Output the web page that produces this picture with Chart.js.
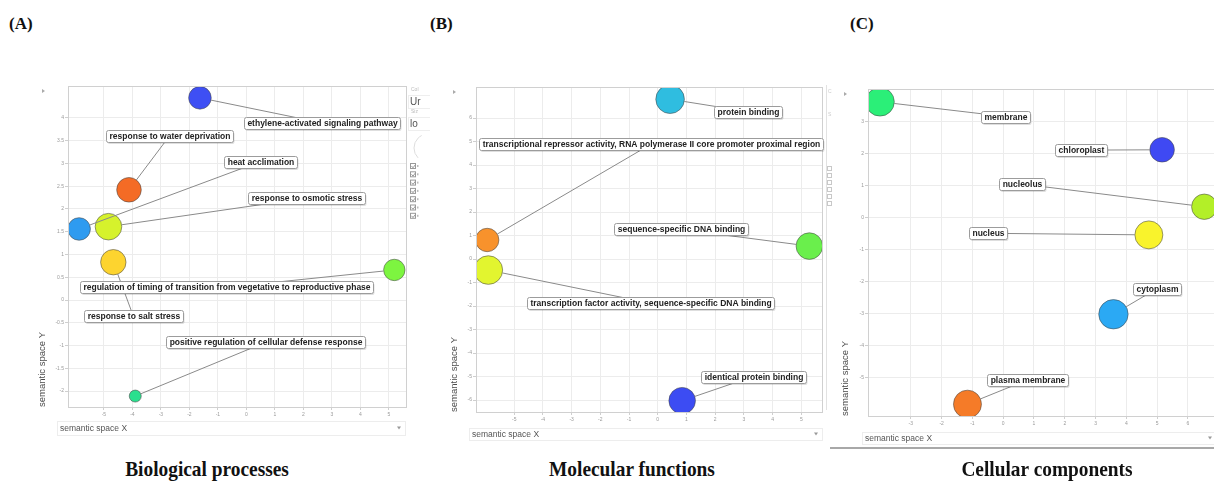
<!DOCTYPE html>
<html>
<head>
<meta charset="utf-8">
<script src="https://cdn.jsdelivr.net/npm/chart.js@4.4.1/dist/chart.umd.min.js"></script>
<style>
html, body { margin: 0; padding: 0; background: #fff; width: 1214px; height: 482px; overflow: hidden; position: relative; }
canvas { position: absolute; }
.tag { position: absolute; font: bold 17px "Liberation Serif", "Times New Roman", serif; color: #111; line-height: 17px; }
.caption { position: absolute; width: 300px; text-align: center; font: bold 22px "Liberation Serif", "Times New Roman", serif; color: #111; line-height: 22px; transform: scaleX(0.88); transform-origin: center; }
.rule { position: absolute; left: 830px; top: 447px; width: 400px; height: 2px; background: #a8a8a8; }
</style>
</head>
<body>
<div class="tag" style="left:9px;top:15px">(A)</div>
<div class="tag" style="left:430px;top:15px">(B)</div>
<div class="tag" style="left:850px;top:15px">(C)</div>

<canvas id="bp" width="400" height="370" style="left:30px;top:80px"></canvas>
<canvas id="mf" width="400" height="372" style="left:440px;top:80px"></canvas>
<canvas id="cc" width="400" height="372" style="left:830px;top:80px"></canvas>
<div class="rule"></div>

<div class="caption" style="left:57px;top:458px">Biological processes</div>
<div class="caption" style="left:482px;top:458px">Molecular functions</div>
<div class="caption" style="left:897px;top:458px">Cellular components</div>

<script>
// (A) Biological processes
const bpTerms = [
  'ethylene-activated signaling pathway',
  'response to water deprivation',
  'heat acclimation',
  'response to osmotic stress',
  'regulation of timing of transition from vegetative to reproductive phase',
  'response to salt stress',
  'positive regulation of cellular defense response'
];
const bpX = [-1.63, -4.12, -5.87, -4.84, 5.19, -4.67, -3.90];
const bpY = [4.44, 2.42, 1.56, 1.61, 0.66, 0.83, -2.11];
const bpSize = [11.3, 12.3, 11.3, 13.3, 10.7, 12.7, 6];
const bpLabelX = [2.65, -2.69, 0.49, 2.12, -0.70, -3.97, 0.67];
const bpLabelY = [3.89, 3.61, 3.04, 2.24, 0.28, -0.35, -0.93];
const bpXTicks = [-5, -4, -3, -2, -1, 0, 1, 2, 3, 4, 5];
const bpYTicks = [-2, -1.5, -1, -0.5, 0, 0.5, 1, 1.5, 2, 2.5, 3, 3.5, 4];

// (B) Molecular functions
const mfTerms = [
  'protein binding',
  'transcriptional repressor activity, RNA polymerase II core promoter proximal region',
  'sequence-specific DNA binding',
  'transcription factor activity, sequence-specific DNA binding',
  'identical protein binding'
];
const mfX = [0.43, -5.94, 5.28, -5.90, 0.85];
const mfY = [6.80, 0.81, 0.55, -0.47, -6.03];
const mfSize = [14.3, 11.7, 13.3, 14.3, 13.3];
const mfLabelX = [3.15, -0.23, 0.81, -0.25, 3.32];
const mfLabelY = [6.27, 4.89, 1.26, -1.88, -5.00];
const mfXTicks = [-5, -4, -3, -2, -1, 0, 1, 2, 3, 4, 5];
const mfYTicks = [-6, -5, -4, -3, -2, -1, 0, 1, 2, 3, 4, 5, 6];

// (C) Cellular components
const ccTerms = ['membrane', 'chloroplast', 'nucleolus', 'nucleus', 'cytoplasm', 'plasma membrane'];
const ccX = [-4.00, 5.16, 6.53, 4.73, 3.58, -1.16];
const ccY = [3.63, 2.13, 0.35, -0.53, -3.01, -5.82];
const ccSize = [14.3, 12.3, 12.7, 14, 14.7, 14];
const ccLabelX = [0.06, 2.53, 0.61, -0.49, 4.99, 0.79];
const ccLabelY = [3.17, 2.12, 1.06, -0.48, -2.21, -5.06];
const ccXTicks = [-3, -2, -1, 0, 1, 2, 3, 4, 5, 6];
const ccYTicks = [-5, -4, -3, -2, -1, 0, 1, 2, 3];

// bubble colours, one per term
const bpColors = ['#3e4ff4', '#f46b25', '#2e9bf0', '#d6f22c', '#7df540', '#fdd42f', '#2bdf8e'];
const mfColors = ['#2fbde0', '#f8922c', '#6aef4c', '#e2f52f', '#3c4cf3'];
const ccColors = ['#2bef78', '#3f49f3', '#b3ef28', '#f9f32c', '#2ba9f4', '#f57b28'];

Chart.defaults.font.family = '"Liberation Sans", Arial, sans-serif';

// labels with connector lines, frame, axis box etc.
function revigoPlugin(p) {
  return {
    id: 'revigo_' + p.id,
    afterDatasetsDraw(chart) {
      const ctx = chart.ctx;
      const area = chart.chartArea;
      const xs = chart.scales.x, ys = chart.scales.y;
      const pts = chart.getDatasetMeta(0).data;
      ctx.save();
      ctx.strokeStyle = '#d0d0d0';
      ctx.lineWidth = 1;
      ctx.strokeRect(Math.round(area.left) + 0.5, Math.round(area.top) + 0.5, Math.round(area.width), Math.round(area.height));

      // connectors: from the bubble edge to the label centre
      ctx.strokeStyle = '#8a8a8a';
      p.terms.forEach((t, i) => {
        const bx = pts[i].x, by = pts[i].y, r = pts[i].options.radius;
        const lx = xs.getPixelForValue(p.labelX[i]), ly = ys.getPixelForValue(p.labelY[i]);
        const d = Math.hypot(lx - bx, ly - by) || 1;
        ctx.beginPath();
        ctx.moveTo(bx + (lx - bx) / d * r, by + (ly - by) / d * r);
        ctx.lineTo(lx, ly);
        ctx.stroke();
      });

      // label boxes
      ctx.font = 'bold 8.5px "Liberation Sans", Arial, sans-serif';
      ctx.textAlign = 'center';
      ctx.textBaseline = 'middle';
      p.terms.forEach((t, i) => {
        const lx = xs.getPixelForValue(p.labelX[i]), ly = ys.getPixelForValue(p.labelY[i]);
        const w = Math.round(ctx.measureText(t).width + 6), h = 12;
        const l = Math.round(lx - w / 2) + 0.5, tp = Math.round(ly - h / 2) + 0.5;
        ctx.fillStyle = 'rgba(0,0,0,0.13)';
        ctx.beginPath(); ctx.roundRect(l + 1, tp + 1.5, w, h, 2); ctx.fill();
        ctx.fillStyle = '#fff';
        ctx.strokeStyle = '#9c9c9c';
        ctx.beginPath(); ctx.roundRect(l, tp, w, h, 2); ctx.fill(); ctx.stroke();
        ctx.fillStyle = '#222';
        ctx.fillText(t, l + w / 2, tp + h / 2 + 0.5);
      });
      ctx.restore();
    },
    afterDraw(chart) {
      const ctx = chart.ctx;
      const b = p.xbox;
      ctx.save();
      // "semantic space X" selector box
      ctx.fillStyle = '#fff';
      ctx.strokeStyle = '#ededed';
      ctx.fillRect(b.l, b.t, b.r - b.l, b.h);
      ctx.strokeRect(b.l + 0.5, b.t + 0.5, b.r - b.l, b.h);
      ctx.fillStyle = '#555';
      ctx.font = '8.5px "Liberation Sans", Arial, sans-serif';
      ctx.textBaseline = 'middle';
      ctx.fillText('semantic space X', b.l + 3, b.t + b.h / 2 + 0.5);
      ctx.fillStyle = '#999';
      ctx.beginPath();
      ctx.moveTo(b.r - 8, b.t + b.h / 2 - 1.5);
      ctx.lineTo(b.r - 4, b.t + b.h / 2 - 1.5);
      ctx.lineTo(b.r - 6, b.t + b.h / 2 + 1.5);
      ctx.fill();
      // small collapse arrow at top left
      const a = p.arrow;
      ctx.fillStyle = '#aaa';
      ctx.beginPath();
      ctx.moveTo(a[0], a[1] - 2);
      ctx.lineTo(a[0] + 3, a[1]);
      ctx.lineTo(a[0], a[1] + 2);
      ctx.fill();
      if (p.side) p.side(ctx);
      ctx.restore();
    }
  };
}

// cut-off settings panel at the right of (A)
function sideA(ctx) {
  ctx.textBaseline = 'alphabetic';
  ctx.fillStyle = '#bbb';
  ctx.font = '5px "Liberation Sans", Arial, sans-serif';
  ctx.fillText('Col', 381, 11);
  ctx.fillText('Siz', 381, 33);
  ctx.fillStyle = '#555';
  ctx.font = '10px "Liberation Sans", Arial, sans-serif';
  ctx.fillText('Ur', 380, 25);
  ctx.fillText('lo', 380, 47);
  ctx.strokeStyle = '#eeeeee';
  ctx.strokeRect(378.5, 15.5, 30, 13);
  ctx.strokeRect(378.5, 37.5, 30, 13);
  ctx.strokeStyle = '#ddd';
  ctx.beginPath(); ctx.arc(398, 68, 14, Math.PI * 0.75, Math.PI * 1.35); ctx.stroke();
  for (let i = 0; i < 7; i++) {
    const y = 83 + i * 8.3;
    ctx.strokeStyle = '#999';
    ctx.strokeRect(380.5, y + 0.5, 5, 5);
    ctx.beginPath(); ctx.moveTo(381.5, y + 3); ctx.lineTo(383, y + 4.8); ctx.lineTo(385.5, y + 1.5); ctx.stroke();
    ctx.fillStyle = '#bbb';
    ctx.fillRect(387, y + 2, 1.5, 2);
  }
}

// cut-off settings panel at the right of (B)
function sideB(ctx) {
  ctx.strokeStyle = '#e2e2e2';
  ctx.beginPath(); ctx.moveTo(386.5, 5); ctx.lineTo(386.5, 330); ctx.stroke();
  ctx.fillStyle = '#ccc';
  ctx.font = '5px "Liberation Sans", Arial, sans-serif';
  ctx.textBaseline = 'alphabetic';
  ctx.fillText('C', 388, 13);
  ctx.fillText('S', 388, 36);
  for (let i = 0; i < 6; i++) {
    ctx.strokeStyle = '#c8c8c8';
    ctx.strokeRect(387.5, 86.5 + i * 7, 4, 4);
  }
}

function makeChart(id, p) {
  return new Chart(document.getElementById(id), {
    type: 'bubble',
    data: {
      datasets: [{
        data: p.x.map((v, i) => ({ x: v, y: p.y[i], r: p.size[i] })),
        backgroundColor: p.colors,
        borderColor: 'rgba(70,70,70,0.55)',
        borderWidth: 1
      }]
    },
    options: {
      responsive: false,
      animation: false,
      events: [],
      layout: { autoPadding: false, padding: { left: 0, top: p.padTop, right: p.padRight, bottom: 0 } },
      plugins: { legend: { display: false }, tooltip: { enabled: false } },
      scales: {
        x: {
          type: 'linear',
          min: p.xMin, max: p.xMax,
          afterBuildTicks: s => { s.ticks = p.xTicks.map(v => ({ value: v })); },
          afterFit: s => { s.height = p.xAxisH; },
          grid: { color: '#ececec', tickLength: 3, tickColor: '#cfcfcf' },
          border: { color: '#d0d0d0' },
          ticks: { font: { size: 5 }, color: '#9a9a9a', padding: 2, maxRotation: 0, autoSkip: false, callback: v => String(v) }
        },
        y: {
          type: 'linear',
          min: p.yMin, max: p.yMax,
          afterBuildTicks: s => { s.ticks = p.yTicks.map(v => ({ value: v })); },
          afterFit: s => { s.width = p.yAxisW; },
          grid: { color: '#ececec', tickLength: 3, tickColor: '#cfcfcf' },
          border: { color: '#d0d0d0' },
          ticks: { font: { size: 5 }, color: '#9a9a9a', padding: 1, autoSkip: false, callback: v => String(v) },
          title: {
            display: true, text: 'semantic space Y', align: 'start', color: '#4a4a4a',
            font: { size: 9.5 }, padding: { top: p.titlePad, bottom: 0 }
          }
        }
      }
    },
    plugins: [revigoPlugin(p)]
  });
}

makeChart('bp', {
  id: 'bp', terms: bpTerms, x: bpX, y: bpY, size: bpSize, labelX: bpLabelX, labelY: bpLabelY,
  xTicks: bpXTicks, yTicks: bpYTicks, colors: bpColors,
  xMin: -6.26, xMax: 5.60, yMin: -2.35, yMax: 4.70,
  padTop: 6, padRight: 24, yAxisW: 38, xAxisH: 43, titlePad: 7,
  xbox: { l: 27, t: 341, r: 375, h: 14 }, arrow: [12, 11], side: sideA
});

makeChart('mf', {
  id: 'mf', terms: mfTerms, x: mfX, y: mfY, size: mfSize, labelX: mfLabelX, labelY: mfLabelY,
  xTicks: mfXTicks, yTicks: mfYTicks, colors: mfColors,
  xMin: -6.33, xMax: 5.72, yMin: -6.51, yMax: 7.32,
  padTop: 7, padRight: 18, yAxisW: 36, xAxisH: 40, titlePad: 9,
  xbox: { l: 29, t: 348, r: 382, h: 12 }, arrow: [13, 12], side: sideB
});

makeChart('cc', {
  id: 'cc', terms: ccTerms, x: ccX, y: ccY, size: ccSize, labelX: ccLabelX, labelY: ccLabelY,
  xTicks: ccXTicks, yTicks: ccYTicks, colors: ccColors,
  xMin: -4.39, xMax: 7.17, yMin: -6.19, yMax: 4.03,
  padTop: 9, padRight: 6, yAxisW: 38, xAxisH: 36, titlePad: 10,
  xbox: { l: 32, t: 352, r: 386, h: 12 }, arrow: [14, 14]
});
</script>
</body>
</html>
